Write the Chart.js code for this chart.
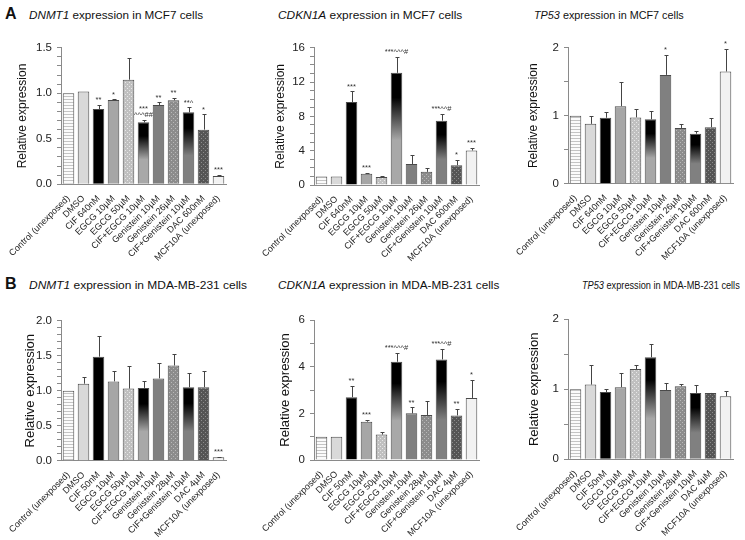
<!DOCTYPE html>
<html>
<head>
<meta charset="utf-8">
<script src="https://cdn.jsdelivr.net/npm/chart.js@4.4.1/dist/chart.umd.min.js"></script>
<style>
  body { margin: 0; background: #fff; width: 745px; height: 540px; position: relative; overflow: hidden;
         font-family: "Liberation Sans", Arial, sans-serif; }
  canvas { position: absolute; }
  .ttl { position: absolute; font-size: 11.7px; color: #111; white-space: nowrap; transform-origin: 0 50%; }
  .lbl { position: absolute; font-size: 16px; font-weight: bold; color: #111; }
</style>
</head>
<body>
<div class="lbl" style="left:5px;top:5px">A</div>
<div class="lbl" style="left:5px;top:275px">B</div>
<div class="ttl" data-w="174" style="left:29px;top:8px"><i>DNMT1</i> expression in MCF7 cells</div>
<div class="ttl" data-w="184" style="left:278px;top:8px"><i>CDKN1A</i> expression in MCF7 cells</div>
<div class="ttl" data-w="150" style="left:534px;top:8px"><i>TP53</i> expression in MCF7 cells</div>
<div class="ttl" data-w="218" style="left:29px;top:278px"><i>DNMT1</i> expression in MDA-MB-231 cells</div>
<div class="ttl" data-w="221" style="left:278px;top:278px"><i>CDKN1A</i> expression in MDA-MB-231 cells</div>
<div class="ttl" data-w="158" style="left:582px;top:278px"><i>TP53</i> expression in MDA-MB-231 cells</div>

<script>
const categoriesMCF7 = ['Control (unexposed)', 'DMSO', 'CIF 640nM', 'EGCG 10µM', 'EGCG 50µM', 'CIF+EGCG 10µM',
  'Genistein 10µM', 'Genistein 26µM', 'CIF+Genistein 10µM', 'DAC 600nM', 'MCF10A (unexposed)'];
const categoriesMDA = ['Control (unexposed)', 'DMSO', 'CIF 50nM', 'EGCG 10µM', 'EGCG 50µM', 'CIF+EGCG 10µM',
  'Genistein 10µM', 'Genistein 28µM', 'CIF+Genistein 10µM', 'DAC 4µM', 'MCF10A (unexposed)'];

// MCF7
const dnmt1Mcf7 = [1.0, 1.02, 0.827, 0.926, 1.149, 0.68, 0.871, 0.922, 0.79, 0.60, 0.091];
const dnmt1Mcf7Err = [0, 0, 0.044, 0.006, 0.234, 0.03, 0.03, 0.026, 0.055, 0.168, 0.015];
const dnmt1Mcf7Sig = ['', '', '**', '*', '', '***\n^^^##', '**', '**', '**^', '*', '***'];

const cdkn1aMcf7 = [1.0, 1.0, 9.66, 1.3, 0.92, 13.07, 2.45, 1.53, 7.5, 2.3, 4.02];
const cdkn1aMcf7Err = [0, 0, 1.25, 0.08, 0.18, 1.85, 1.0, 0.47, 0.78, 0.6, 0.28];
const cdkn1aMcf7Sig = ['', '', '***', '***', '', '***^^^#', '', '', '***^^#', '*', '***'];

const tp53Mcf7 = [1.0, 0.88, 0.97, 1.14, 0.975, 0.946, 1.6, 0.82, 0.735, 0.83, 1.65];
const tp53Mcf7Err = [0, 0.11, 0.09, 0.35, 0.125, 0.125, 0.29, 0.06, 0.045, 0.13, 0.33];
const tp53Mcf7Sig = ['', '', '', '', '', '', '*', '', '', '', '*'];

// MDA-MB-231
const dnmt1Mda = [1.0, 1.10, 1.486, 1.133, 1.03, 1.04, 1.176, 1.36, 1.05, 1.05, 0.048];
const dnmt1MdaErr = [0, 0.095, 0.30, 0.143, 0.32, 0.10, 0.224, 0.16, 0.207, 0.226, 0.009];
const dnmt1MdaSig = ['', '', '', '', '', '', '', '', '', '', '***'];

const cdkn1aMda = [1.0, 1.0, 2.69, 1.64, 1.09, 4.21, 2.0, 1.93, 4.31, 1.91, 2.66];
const cdkn1aMdaErr = [0, 0, 0.5, 0.07, 0.1, 0.39, 0.26, 0.61, 0.46, 0.29, 0.77];
const cdkn1aMdaSig = ['', '', '**', '***', '', '***^^^#', '**', '', '***^^#', '**', '*'];

const tp53Mda = [1.0, 1.067, 0.96, 1.03, 1.29, 1.457, 0.99, 1.043, 0.948, 0.948, 0.9];
const tp53MdaErr = [0, 0.283, 0.045, 0.21, 0.06, 0.193, 0.105, 0.037, 0.119, 0.004, 0.07];
const tp53MdaSig = ['', '', '', '', '', '', '', '', '', '', ''];

const FONT = '"Liberation Sans", Arial, sans-serif';
const AXIS = '#8a8a8a';

// squeeze titles to the widths seen in the figure
document.querySelectorAll('.ttl').forEach((el) => {
  const k = Number(el.dataset.w) / el.offsetWidth;
  el.style.transform = 'scaleX(' + k.toFixed(3) + ')';
});

// bar fills
function stripes() {
  const c = document.createElement('canvas');
  c.width = 4; c.height = 3;
  const x = c.getContext('2d');
  x.fillStyle = '#fbfbfb'; x.fillRect(0, 0, 4, 3);
  x.fillStyle = '#c4c4c4'; x.fillRect(0, 0, 4, 1);
  return x.createPattern(c, 'repeat');
}
function dots(base, dot) {
  const c = document.createElement('canvas');
  c.width = 4; c.height = 4;
  const x = c.getContext('2d');
  x.fillStyle = base; x.fillRect(0, 0, 4, 4);
  x.fillStyle = dot; x.fillRect(0, 0, 1, 1); x.fillRect(2, 2, 1, 1);
  return x.createPattern(c, 'repeat');
}
function grad(dark, light) {
  return (ctx) => {
    const chart = ctx.chart;
    const y = chart.scales.y;
    if (!chart.chartArea || !y) return light;
    const top = y.getPixelForValue(ctx.raw);
    const base = y.getPixelForValue(0);
    const g = chart.ctx.createLinearGradient(0, top, 0, base);
    g.addColorStop(0, dark);
    g.addColorStop(0.22, dark);
    g.addColorStop(0.6, light);
    g.addColorStop(1, light);
    return g;
  };
}
const fills = [stripes(), '#d9d9d9', '#000000', '#a6a6a6', dots('#c0c0c0', '#e8e8e8'),
  grad('#000000', '#a8a8a8'), '#808080', dots('#8c8c8c', '#b9b9b9'), grad('#000000', '#808080'),
  dots('#555555', '#8c8c8c'), '#f2f2f2'];

const panels = [
  { id: 'a1', axisX: 60.5, top: 30, chartTop: 47.7, chartBottom: 184.3, labels: categoriesMCF7,
    values: dnmt1Mcf7, errors: dnmt1Mcf7Err, sig: dnmt1Mcf7Sig, max: 1.5, major: 0.5, minor: 0.1, dec: 1, titleDist: 38.5, titleSize: 12 },
  { id: 'a2', axisX: 314, top: 30, chartTop: 47.7, chartBottom: 185, labels: categoriesMCF7,
    values: cdkn1aMcf7, errors: cdkn1aMcf7Err, sig: cdkn1aMcf7Sig, max: 16, major: 4, minor: 1, dec: 0, titleDist: 33, titleSize: 12 },
  { id: 'a3', axisX: 567.5, top: 30, chartTop: 47.7, chartBottom: 183.7, labels: categoriesMCF7,
    values: tp53Mcf7, errors: tp53Mcf7Err, sig: tp53Mcf7Sig, max: 2, major: 1, minor: 0.5, dec: 0, titleDist: 34.5, titleSize: 12 },
  { id: 'b1', axisX: 60.5, top: 300, chartTop: 320.7, chartBottom: 460.7, labels: categoriesMDA,
    values: dnmt1Mda, errors: dnmt1MdaErr, sig: dnmt1MdaSig, max: 2, major: 0.5, minor: 0.1, dec: 1, titleDist: 30.5, titleSize: 13 },
  { id: 'b2', axisX: 314, top: 300, chartTop: 320, chartBottom: 460, labels: categoriesMDA,
    values: cdkn1aMda, errors: cdkn1aMdaErr, sig: cdkn1aMdaSig, max: 6, major: 2, minor: 1, dec: 0, titleDist: 28.5, titleSize: 13 },
  { id: 'b3', axisX: 567.5, top: 300, chartTop: 319.3, chartBottom: 459.3, labels: categoriesMDA,
    values: tp53Mda, errors: tp53MdaErr, sig: tp53MdaSig, max: 2, major: 1, minor: 0.5, dec: 0, titleDist: 33.5, titleSize: 13 },
];

const W = 235, H = 240, YW = 60, PLOTW = 165;

panels.forEach((p) => {
  const canvas = document.createElement('canvas');
  canvas.width = W; canvas.height = H;
  canvas.style.left = (p.axisX - YW) + 'px';
  canvas.style.top = p.top + 'px';
  document.body.appendChild(canvas);

  // error bars + significance marks
  const errorBars = {
    id: 'errorBars',
    afterDatasetsDraw(chart) {
      const { ctx, scales: { y } } = chart;
      const meta = chart.getDatasetMeta(0);
      ctx.save();
      ctx.strokeStyle = '#444';
      ctx.lineWidth = 1;
      meta.data.forEach((bar, i) => {
        const v = p.values[i], e = p.errors[i];
        const yBar = y.getPixelForValue(v);
        const yTop = y.getPixelForValue(v + e);
        const x = Math.round(bar.x) + 0.5;
        if (e > 0) {
          ctx.beginPath();
          ctx.moveTo(x, yBar);
          ctx.lineTo(x, Math.round(yTop) + 0.5);
          ctx.moveTo(x - 2, Math.round(yTop) + 0.5);
          ctx.lineTo(x + 2, Math.round(yTop) + 0.5);
          ctx.stroke();
        }
        const s = p.sig[i];
        if (s) {
          ctx.fillStyle = '#333';
          ctx.font = '7.5px ' + FONT;
          ctx.textAlign = 'center';
          ctx.textBaseline = 'bottom';
          const lines = s.split('\n');
          lines.forEach((ln, k) => {
            ctx.fillText(ln, bar.x, Math.min(yTop, yBar) - 1 - (lines.length - 1 - k) * 6);
          });
        }
      });
      ctx.restore();
    }
  };

  new Chart(canvas, {
    type: 'bar',
    data: {
      labels: p.labels,
      datasets: [{
        data: p.values,
        backgroundColor: (c) => {
          const f = fills[c.dataIndex];
          return typeof f === 'function' ? f(c) : f;
        },
        borderColor: '#4a4a4a',
        borderWidth: 1,
        borderSkipped: 'bottom',
        barPercentage: 0.77,
        categoryPercentage: 1,
      }]
    },
    options: {
      responsive: false,
      animation: false,
      devicePixelRatio: 1,
      layout: { padding: { top: p.chartTop - p.top, right: W - YW - PLOTW, left: 0, bottom: 0 } },
      plugins: { legend: { display: false }, tooltip: { enabled: false } },
      scales: {
        x: {
          grid: { display: false },
          border: { display: true, color: AXIS },
          ticks: { minRotation: 45, maxRotation: 45, autoSkip: false, padding: 1,
                   font: { size: 9, family: FONT }, color: '#222' },
          afterFit: (s) => { s.height = p.top + H - p.chartBottom; }
        },
        y: {
          min: 0,
          max: p.max,
          border: { color: AXIS },
          grid: { drawOnChartArea: false, tickLength: 4, color: AXIS },
          ticks: {
            stepSize: p.minor,
            autoSkip: false,
            padding: 5,
            font: { size: 11.5, family: FONT },
            color: '#222',
            callback: (v) => {
              const r = v / p.major;
              return Math.abs(r - Math.round(r)) < 1e-6 ? v.toFixed(p.dec) : '';
            }
          },
          title: {
            display: true,
            text: 'Relative expression',
            color: '#111',
            font: { size: p.titleSize, family: FONT },
            padding: { top: YW - p.titleDist - p.titleSize * 0.6, bottom: 0 }
          },
          afterFit: (s) => { s.width = YW; }
        }
      }
    },
    plugins: [errorBars]
  });
});
</script>
</body>
</html>
